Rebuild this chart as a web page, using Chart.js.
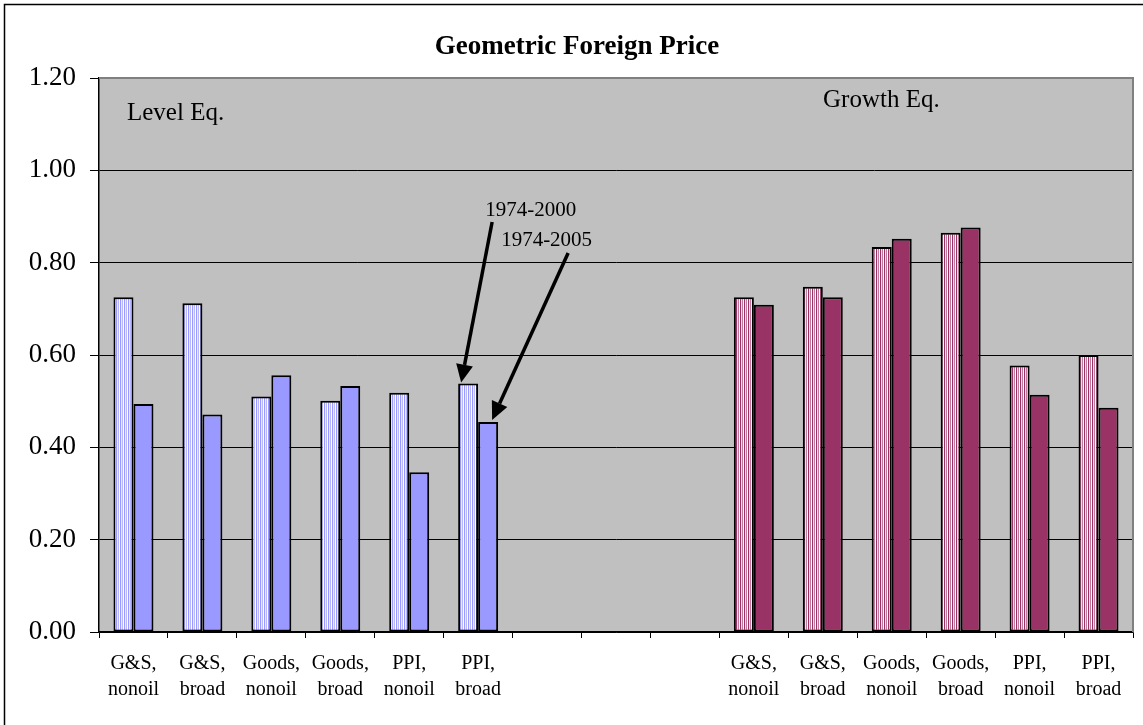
<!DOCTYPE html>
<html>
<head>
<meta charset="utf-8">
<script src="https://cdn.jsdelivr.net/npm/chart.js@4/dist/chart.umd.min.js"></script>
<style>
  html, body { margin: 0; padding: 0; background: #fff; overflow: hidden; }
  #wrap { width: 1143px; height: 725px; position: relative; }
</style>
</head>
<body>
<div id="wrap"><canvas id="priceChart" width="1143" height="725"></canvas></div>
<script>
// Geometric Foreign Price - level vs growth equations

const categories = [
    ['G&S,', 'nonoil'], ['G&S,', 'broad'], ['Goods,', 'nonoil'], ['Goods,', 'broad'], ['PPI,', 'nonoil'], ['PPI,', 'broad'],
    '', '', '',
    ['G&S,', 'nonoil'], ['G&S,', 'broad'], ['Goods,', 'nonoil'], ['Goods,', 'broad'], ['PPI,', 'nonoil'], ['PPI,', 'broad']
];
const period2000 = [0.725, 0.712, 0.510, 0.501, 0.518, 0.538, null, null, null, 0.725, 0.748, 0.834, 0.865, 0.577, 0.600];
const period2005 = [0.494, 0.471, 0.556, 0.533, 0.346, 0.455, null, null, null, 0.709, 0.725, 0.852, 0.876, 0.514, 0.486];
const yTicks = [0, 0.2, 0.4, 0.6, 0.8, 1.0, 1.2];
const seriesNames = ['1974-2000', '1974-2005'];
const groupNames = ['Level Eq.', 'Growth Eq.'];

const FONT = "'Liberation Serif', 'Times New Roman', serif";
const BLUE = '#9999FF';
const PLUM = '#993366';

// vertical stripe fill for the first period
function stripes(cols) {
    const c = document.createElement('canvas');
    c.width = cols.length;
    c.height = 4;
    const g = c.getContext('2d');
    cols.forEach((col, i) => {
        g.fillStyle = col;
        g.fillRect(i, 0, 1, 4);
    });
    return g.createPattern(c, 'repeat');
}

const blueStripe = stripes([BLUE, '#E8E8FF', '#B8B8FF', '#FFFFFF']);
const plumStripe = stripes([PLUM, '#F2DCE6', '#C27A9C', '#FFFFFF']);

const isLevel = i => i < 6;
const fill2000 = categories.map((c, i) => isLevel(i) ? blueStripe : plumStripe);
const fill2005 = categories.map((c, i) => isLevel(i) ? BLUE : PLUM);

function drawArrow(ctx, x1, y1, x2, y2) {
    const ang = Math.atan2(y2 - y1, x2 - x1);
    const head = 18, half = 8.5;
    const bx = x2 - head * Math.cos(ang), by = y2 - head * Math.sin(ang);
    ctx.save();
    ctx.strokeStyle = '#000';
    ctx.fillStyle = '#000';
    ctx.lineWidth = 3.5;
    ctx.beginPath();
    ctx.moveTo(x1, y1);
    ctx.lineTo(bx, by);
    ctx.stroke();
    ctx.beginPath();
    ctx.moveTo(x2, y2);
    ctx.lineTo(bx + half * Math.sin(ang), by - half * Math.cos(ang));
    ctx.lineTo(bx - half * Math.sin(ang), by + half * Math.cos(ang));
    ctx.closePath();
    ctx.fill();
    ctx.restore();
}

const decorPlugin = {
    id: 'decor',
    beforeDraw(chart) {
        const { ctx, chartArea: a } = chart;
        ctx.save();
        ctx.fillStyle = '#fff';
        ctx.fillRect(0, 0, chart.width, chart.height);
        ctx.fillStyle = '#C0C0C0';
        ctx.fillRect(a.left, a.top, a.right - a.left, a.bottom - a.top);
        ctx.restore();
    },
    afterDatasetsDraw(chart) {
        const { ctx, chartArea: a } = chart;
        ctx.save();
        // plot border (top and right in gray)
        ctx.strokeStyle = '#808080';
        ctx.lineWidth = 2;
        ctx.beginPath();
        ctx.moveTo(a.left, a.top);
        ctx.lineTo(a.right, a.top);
        ctx.lineTo(a.right, a.bottom);
        ctx.stroke();
        ctx.restore();
    },
    afterDraw(chart) {
        const { ctx, chartArea: a } = chart;
        const y = chart.scales.y;
        ctx.save();
        // outer chart frame (only left and top fall inside the picture)
        ctx.strokeStyle = '#000';
        ctx.lineWidth = 1.5;
        ctx.beginPath();
        ctx.moveTo(4.5, chart.height);
        ctx.lineTo(4.5, 4.5);
        ctx.lineTo(chart.width, 4.5);
        ctx.stroke();

        ctx.fillStyle = '#000';
        ctx.textBaseline = 'middle';
        ctx.textAlign = 'center';
        ctx.font = 'bold 27px ' + FONT;
        ctx.fillText('Geometric Foreign Price', 577, 47);

        ctx.textAlign = 'left';
        ctx.font = '25px ' + FONT;
        ctx.fillText(groupNames[0], a.left + 28, a.top + 35);
        ctx.fillText(groupNames[1], a.left + 724, a.top + 22);

        // series callouts pointing at the PPI, broad bars
        const b0 = chart.getDatasetMeta(0).data[5];
        const b1 = chart.getDatasetMeta(1).data[5];
        const t0x = b0.x + 17, t0y = y.getPixelForValue(0.914);
        const t1x = b1.x + 13, t1y = y.getPixelForValue(0.849);
        ctx.font = '21px ' + FONT;
        ctx.fillText(seriesNames[0], t0x, t0y);
        ctx.fillText(seriesNames[1], t1x, t1y);
        drawArrow(ctx, t0x + 7, t0y + 12, b0.x - 7, b0.y - 1);
        drawArrow(ctx, t1x + 67, t1y + 13, b1.x + 4, b1.y - 2);
        ctx.restore();
    }
};

new Chart(document.getElementById('priceChart').getContext('2d'), {
    type: 'bar',
    data: {
        labels: categories,
        datasets: [
            {
                label: seriesNames[0],
                data: period2000,
                backgroundColor: fill2000,
                borderColor: '#000',
                borderWidth: 2,
                borderSkipped: false,
                categoryPercentage: 0.58,
                barPercentage: 1.0
            },
            {
                label: seriesNames[1],
                data: period2005,
                backgroundColor: fill2005,
                borderColor: '#000',
                borderWidth: 2,
                borderSkipped: false,
                categoryPercentage: 0.58,
                barPercentage: 1.0
            }
        ]
    },
    options: {
        responsive: false,
        animation: false,
        devicePixelRatio: 1,
        layout: { padding: { top: 78, right: 10, left: 0, bottom: 0 } },
        plugins: {
            legend: { display: false },
            tooltip: { enabled: false },
            title: { display: false }
        },
        scales: {
            x: {
                afterFit(scale) { scale.height = 93; },
                border: { color: '#000', width: 1.5 },
                grid: {
                    drawOnChartArea: false,
                    color: '#000',
                    tickLength: 6,
                    offset: true
                },
                ticks: {
                    autoSkip: false,
                    maxRotation: 0,
                    color: '#000',
                    padding: 13,
                    font: { family: FONT, size: 20, lineHeight: 1.3 }
                }
            },
            y: {
                min: 0,
                max: 1.2,
                afterFit(scale) { scale.width = 99; },
                afterBuildTicks(scale) { scale.ticks = yTicks.map(v => ({ value: v })); },
                border: { color: '#000', width: 1.5 },
                grid: { color: '#000', lineWidth: 1, tickLength: 9 },
                ticks: {
                    color: '#000',
                    padding: 14,
                    font: { family: FONT, size: 27 },
                    callback: v => Number(v).toFixed(2)
                }
            }
        }
    },
    plugins: [decorPlugin]
});
</script>
</body>
</html>
